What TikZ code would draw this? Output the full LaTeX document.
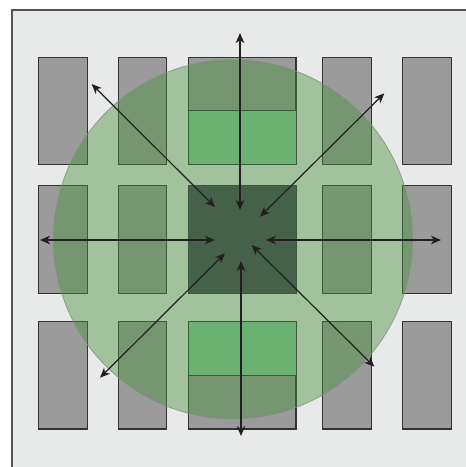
\documentclass[tikz,border=0pt]{standalone}
\usetikzlibrary{arrows.meta}
\definecolor{bgfill}{HTML}{E8E9E9}
\definecolor{framecol}{HTML}{555555}
\definecolor{rectgrey}{HTML}{9A9B9A}
\definecolor{rectedge}{HTML}{333333}
\definecolor{circfill}{HTML}{46903C}
\definecolor{circedge}{HTML}{7F907F}
\definecolor{brightgreen}{HTML}{6AB172}
\definecolor{darkgreen}{HTML}{456149}
\definecolor{darkedge}{HTML}{3C553F}
\definecolor{arrowcol}{HTML}{231F20}
\tikzset{
  greyrect/.style={fill=rectgrey, draw=rectedge, line width=1.1pt},
  greenrect/.style={fill=brightgreen, draw=none},
  centerrect/.style={fill=darkgreen, draw=darkedge, line width=0.8pt},
  zone/.style={fill=circfill, fill opacity=0.43, draw=circedge, draw opacity=0.8, line width=0.8pt},
  dblarrow/.style={draw=arrowcol, line width=1.2pt, {Stealth[length=10pt,width=8.5pt,inset=3pt]}-{Stealth[length=10pt,width=8.5pt,inset=3pt]}},
}
\begin{document}
\begin{tikzpicture}[x=1pt,y=-1pt]
\useasboundingbox (0,0) rectangle (466,467);
\clip (0,0) rectangle (466,467);
\fill[white] (0,0) rectangle (466,467);
% outer frame
\path[fill=bgfill, draw=framecol, line width=1.5pt] (12,10) rectangle (490,490);
% grey blocks
\foreach \xa/\xb in {38.3/87.3, 118.3/166.7, 188.3/296, 322.7/371.7, 402.3/451.3}{
  \foreach \ya/\yb in {57.3/164.3, 185.7/293.3, 321.7/429}{
    \path[greyrect] (\xa,\ya) rectangle (\xb,\yb);
  }
}
% translucent zone
\path[zone] (233,239.3) circle[radius=179.5pt];
% bright green parts and centre square
\path[greenrect] (188.8,110.5) rectangle (295.5,163.8);
\draw[darkedge, line width=0.8pt] (188.3,110.5) -- (296,110.5);
\path[greenrect] (188.8,322.2) rectangle (295.5,375);
\draw[darkedge, line width=0.8pt] (188.3,375) -- (296,375);
\path[centerrect] (188.3,185.7) rectangle (296,293.3);
% arrow end points
\coordinate (Nout) at (240,33);
\coordinate (Nin) at (240,210);
\coordinate (Sin) at (241,261);
\coordinate (Sout) at (241,436);
\coordinate (Wout) at (40,240);
\coordinate (Win) at (215,240);
\coordinate (Ein) at (266,240);
\coordinate (Eout) at (441,240);
\coordinate (NWout) at (91.7,84);
\coordinate (NWin) at (215,207);
\coordinate (NEin) at (260,216.7);
\coordinate (NEout) at (384.3,93.3);
\coordinate (SWout) at (100,377.7);
\coordinate (SWin) at (225,253.3);
\coordinate (SEin) at (251.7,245);
\coordinate (SEout) at (374.3,366.7);
% arrows
\draw[dblarrow] (Nout) -- (Nin);
\draw[dblarrow] (Sin) -- (Sout);
\draw[dblarrow] (Wout) -- (Win);
\draw[dblarrow] (Ein) -- (Eout);
\draw[dblarrow] (NWout) -- (NWin);
\draw[dblarrow] (NEin) -- (NEout);
\draw[dblarrow] (SWout) -- (SWin);
\draw[dblarrow] (SEin) -- (SEout);
\end{tikzpicture}
\end{document}
